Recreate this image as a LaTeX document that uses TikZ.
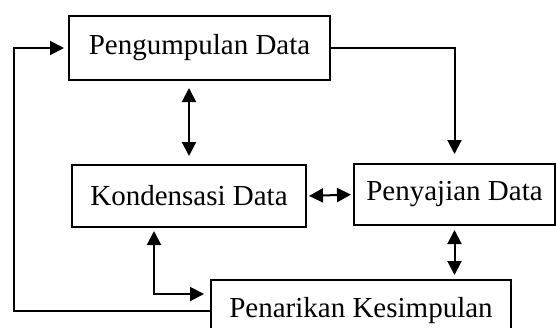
\documentclass[tikz,border=0pt]{standalone}
\usepackage{fontspec}
\setmainfont{Liberation Serif}
\usetikzlibrary{arrows.meta}

\begin{document}
\begin{tikzpicture}[x=0.5pt,y=-0.5pt,line width=1pt,>={Triangle[length=7pt,width=7pt]},
    kotak/.style={draw,inner sep=0pt,font=\fontsize{14.5}{17}\selectfont}]
    \useasboundingbox (0,0) rectangle (556,327);
    \node[kotak,minimum width=130.5pt,minimum height=32pt] (kumpul) at (199.5,48) {Pengumpulan Data};
    \node[kotak,minimum width=117pt,minimum height=31pt] (kondens) at (189,196) {Kondensasi Data};
    \node[kotak,minimum width=100.5pt,minimum height=30.5pt] (saji) at (454.5,194.5) {Penyajian Data};
    \node[kotak,minimum width=150pt,minimum height=31pt] (tarik) at (361,311) {Penarikan Kesimpulan};
    \coordinate (kiri) at (13.5,0);
    \draw[<->,shorten <=3.5pt,shorten >=4pt] (kondens.north |- kumpul.south) -- (kondens.north);
    \draw[->,shorten >=4.5pt] (kumpul.east) -| (saji.north);
    \draw[<->,shorten <=1pt,shorten >=1pt] (kondens.east) -- (saji.west);
    \draw[<->,shorten <=1.5pt,shorten >=3pt] ([xshift=-17.5pt]kondens.south) |- ([yshift=8.5pt]tarik.west);
    \draw[<->,shorten <=2pt,shorten >=2pt] (saji.south) -- (saji.south |- tarik.north);
    \draw[->,shorten >=2pt] (tarik.west) -- (tarik.west -| kiri) |- (kumpul.west);
\end{tikzpicture}
\end{document}
